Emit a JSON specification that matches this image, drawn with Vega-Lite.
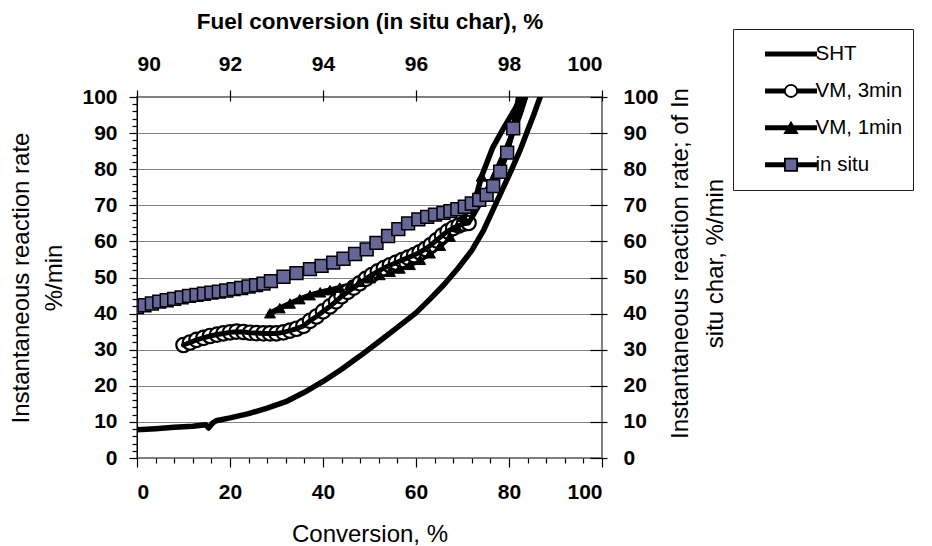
{
  "$schema": "https://vega.github.io/schema/vega-lite/v6.json",
  "autosize": {"type": "none"},
  "padding": {"left": 137, "top": 97, "right": 330, "bottom": 88},
  "width": 465,
  "height": 361,
  "background": "white",
  "config": {
    "font": "Liberation Sans",
    "view": {"stroke": "#808080", "strokeWidth": 2},
    "axis": {"labelColor": "black", "titleColor": "black", "tickColor": "black", "labelFont": "Liberation Sans", "titleFont": "Liberation Sans", "tickWidth": 1.2},
    "legend": {"labelFont": "Liberation Sans", "labelColor": "black"}
  },
  "data": {
    "values": [
      {"series": "SHT", "conversion": 0, "rate": 7.8},
      {"series": "SHT", "conversion": 4, "rate": 8.1},
      {"series": "SHT", "conversion": 8, "rate": 8.5},
      {"series": "SHT", "conversion": 12, "rate": 8.8},
      {"series": "SHT", "conversion": 14.8, "rate": 9.2},
      {"series": "SHT", "conversion": 15.4, "rate": 8.3},
      {"series": "SHT", "conversion": 16.2, "rate": 9.6},
      {"series": "SHT", "conversion": 17, "rate": 10.3},
      {"series": "SHT", "conversion": 20, "rate": 11.1},
      {"series": "SHT", "conversion": 24, "rate": 12.3},
      {"series": "SHT", "conversion": 28, "rate": 13.8},
      {"series": "SHT", "conversion": 32, "rate": 15.6},
      {"series": "SHT", "conversion": 36, "rate": 18.2},
      {"series": "SHT", "conversion": 40, "rate": 21.2},
      {"series": "SHT", "conversion": 44, "rate": 24.6},
      {"series": "SHT", "conversion": 48, "rate": 28.3},
      {"series": "SHT", "conversion": 52, "rate": 32.2},
      {"series": "SHT", "conversion": 56, "rate": 36.2},
      {"series": "SHT", "conversion": 60, "rate": 40.2},
      {"series": "SHT", "conversion": 63, "rate": 44},
      {"series": "SHT", "conversion": 66, "rate": 48},
      {"series": "SHT", "conversion": 69, "rate": 52.5},
      {"series": "SHT", "conversion": 72, "rate": 57.5},
      {"series": "SHT", "conversion": 74.5, "rate": 63},
      {"series": "SHT", "conversion": 77, "rate": 70},
      {"series": "SHT", "conversion": 79, "rate": 75.5},
      {"series": "SHT", "conversion": 80.6, "rate": 80},
      {"series": "SHT", "conversion": 82.3, "rate": 85},
      {"series": "SHT", "conversion": 83.8, "rate": 90},
      {"series": "SHT", "conversion": 85.3, "rate": 95},
      {"series": "SHT", "conversion": 86.7, "rate": 100},
      {"series": "SHT", "conversion": 87.5, "rate": 103},

      {"series": "VM, 3min", "conversion": 10.0, "rate": 31.3},
      {"series": "VM, 3min", "conversion": 11.4, "rate": 32.0},
      {"series": "VM, 3min", "conversion": 12.8, "rate": 32.7},
      {"series": "VM, 3min", "conversion": 14.3, "rate": 33.3},
      {"series": "VM, 3min", "conversion": 15.7, "rate": 33.8},
      {"series": "VM, 3min", "conversion": 17.2, "rate": 34.2},
      {"series": "VM, 3min", "conversion": 18.6, "rate": 34.5},
      {"series": "VM, 3min", "conversion": 20.0, "rate": 34.8},
      {"series": "VM, 3min", "conversion": 21.4, "rate": 35.0},
      {"series": "VM, 3min", "conversion": 22.9, "rate": 34.9},
      {"series": "VM, 3min", "conversion": 24.3, "rate": 34.7},
      {"series": "VM, 3min", "conversion": 25.7, "rate": 34.6},
      {"series": "VM, 3min", "conversion": 27.2, "rate": 34.5},
      {"series": "VM, 3min", "conversion": 28.6, "rate": 34.5},
      {"series": "VM, 3min", "conversion": 30.0, "rate": 34.5},
      {"series": "VM, 3min", "conversion": 31.5, "rate": 34.8},
      {"series": "VM, 3min", "conversion": 32.9, "rate": 35.3},
      {"series": "VM, 3min", "conversion": 34.3, "rate": 35.8},
      {"series": "VM, 3min", "conversion": 35.8, "rate": 36.6},
      {"series": "VM, 3min", "conversion": 37.2, "rate": 38.0},
      {"series": "VM, 3min", "conversion": 38.6, "rate": 39.2},
      {"series": "VM, 3min", "conversion": 40.0, "rate": 40.6},
      {"series": "VM, 3min", "conversion": 41.5, "rate": 42.0},
      {"series": "VM, 3min", "conversion": 42.8, "rate": 43.4},
      {"series": "VM, 3min", "conversion": 44.0, "rate": 44.8},
      {"series": "VM, 3min", "conversion": 45.3, "rate": 46.0},
      {"series": "VM, 3min", "conversion": 46.6, "rate": 47.2},
      {"series": "VM, 3min", "conversion": 47.9, "rate": 48.4},
      {"series": "VM, 3min", "conversion": 49.2, "rate": 49.6},
      {"series": "VM, 3min", "conversion": 50.5, "rate": 50.7},
      {"series": "VM, 3min", "conversion": 51.8, "rate": 51.7},
      {"series": "VM, 3min", "conversion": 53.1, "rate": 52.6},
      {"series": "VM, 3min", "conversion": 54.4, "rate": 53.4},
      {"series": "VM, 3min", "conversion": 55.7, "rate": 54.1},
      {"series": "VM, 3min", "conversion": 57.0, "rate": 54.8},
      {"series": "VM, 3min", "conversion": 58.3, "rate": 55.5},
      {"series": "VM, 3min", "conversion": 59.6, "rate": 56.2},
      {"series": "VM, 3min", "conversion": 60.8, "rate": 57.0},
      {"series": "VM, 3min", "conversion": 62.0, "rate": 57.9},
      {"series": "VM, 3min", "conversion": 63.2, "rate": 59.0},
      {"series": "VM, 3min", "conversion": 64.4, "rate": 60.3},
      {"series": "VM, 3min", "conversion": 65.6, "rate": 61.6},
      {"series": "VM, 3min", "conversion": 66.8, "rate": 62.8},
      {"series": "VM, 3min", "conversion": 68.0, "rate": 63.7},
      {"series": "VM, 3min", "conversion": 69.2, "rate": 64.4},
      {"series": "VM, 3min", "conversion": 70.3, "rate": 64.9},
      {"series": "VM, 3min", "conversion": 71.3, "rate": 65.1},
      {"series": "VM, 3min", "conversion": 73.5, "rate": 70.0},
      {"series": "VM, 3min", "conversion": 76.0, "rate": 76.0},
      {"series": "VM, 3min", "conversion": 78.5, "rate": 83.0},
      {"series": "VM, 3min", "conversion": 80.5, "rate": 89.0},
      {"series": "VM, 3min", "conversion": 82.3, "rate": 95.0},
      {"series": "VM, 3min", "conversion": 83.8, "rate": 101.0},

      {"series": "VM, 1min", "conversion": 28.6, "rate": 40.1},
      {"series": "VM, 1min", "conversion": 30.7, "rate": 41.5},
      {"series": "VM, 1min", "conversion": 32.9, "rate": 42.8},
      {"series": "VM, 1min", "conversion": 35.0, "rate": 44.0},
      {"series": "VM, 1min", "conversion": 37.2, "rate": 45.1},
      {"series": "VM, 1min", "conversion": 39.4, "rate": 45.9},
      {"series": "VM, 1min", "conversion": 41.5, "rate": 46.5},
      {"series": "VM, 1min", "conversion": 43.6, "rate": 47.2},
      {"series": "VM, 1min", "conversion": 45.8, "rate": 47.9},
      {"series": "VM, 1min", "conversion": 47.9, "rate": 48.8},
      {"series": "VM, 1min", "conversion": 50.1, "rate": 49.8},
      {"series": "VM, 1min", "conversion": 52.2, "rate": 50.7},
      {"series": "VM, 1min", "conversion": 54.4, "rate": 51.6},
      {"series": "VM, 1min", "conversion": 56.5, "rate": 52.5},
      {"series": "VM, 1min", "conversion": 58.7, "rate": 53.5},
      {"series": "VM, 1min", "conversion": 60.9, "rate": 54.9},
      {"series": "VM, 1min", "conversion": 63.0, "rate": 56.7},
      {"series": "VM, 1min", "conversion": 65.2, "rate": 58.8},
      {"series": "VM, 1min", "conversion": 67.3, "rate": 61.3},
      {"series": "VM, 1min", "conversion": 68.8, "rate": 64.0},
      {"series": "VM, 1min", "conversion": 70.2, "rate": 66.8},
      {"series": "VM, 1min", "conversion": 71.7, "rate": 70.0},
      {"series": "VM, 1min", "conversion": 73.1, "rate": 73.3},
      {"series": "VM, 1min", "conversion": 74.1, "rate": 78.0},
      {"series": "VM, 1min", "conversion": 76.5, "rate": 86.0},
      {"series": "VM, 1min", "conversion": 78.8, "rate": 91.3},
      {"series": "VM, 1min", "conversion": 81.2, "rate": 96.5},
      {"series": "VM, 1min", "conversion": 83.6, "rate": 102.0},

      {"series": "in situ", "conversion": 0, "rate": 41.8},
      {"series": "in situ", "conversion": 1.6, "rate": 42.3},
      {"series": "in situ", "conversion": 3.2, "rate": 42.8},
      {"series": "in situ", "conversion": 4.8, "rate": 43.3},
      {"series": "in situ", "conversion": 6.4, "rate": 43.7},
      {"series": "in situ", "conversion": 8.0, "rate": 44.1},
      {"series": "in situ", "conversion": 9.6, "rate": 44.5},
      {"series": "in situ", "conversion": 11.2, "rate": 44.9},
      {"series": "in situ", "conversion": 12.8, "rate": 45.2},
      {"series": "in situ", "conversion": 14.4, "rate": 45.5},
      {"series": "in situ", "conversion": 16.0, "rate": 45.8},
      {"series": "in situ", "conversion": 17.6, "rate": 46.1},
      {"series": "in situ", "conversion": 19.2, "rate": 46.4},
      {"series": "in situ", "conversion": 20.8, "rate": 46.8},
      {"series": "in situ", "conversion": 22.4, "rate": 47.1},
      {"series": "in situ", "conversion": 24.0, "rate": 47.5},
      {"series": "in situ", "conversion": 25.6, "rate": 47.9},
      {"series": "in situ", "conversion": 27.2, "rate": 48.3},
      {"series": "in situ", "conversion": 28.8, "rate": 49.0},
      {"series": "in situ", "conversion": 31.5, "rate": 50.2},
      {"series": "in situ", "conversion": 34.3, "rate": 51.2},
      {"series": "in situ", "conversion": 37.2, "rate": 52.3},
      {"series": "in situ", "conversion": 39.7, "rate": 53.2},
      {"series": "in situ", "conversion": 42.2, "rate": 54.1},
      {"series": "in situ", "conversion": 44.4, "rate": 55.2},
      {"series": "in situ", "conversion": 46.9, "rate": 56.5},
      {"series": "in situ", "conversion": 49.4, "rate": 57.8},
      {"series": "in situ", "conversion": 51.5, "rate": 59.6},
      {"series": "in situ", "conversion": 54.0, "rate": 61.5},
      {"series": "in situ", "conversion": 56.2, "rate": 63.4},
      {"series": "in situ", "conversion": 58.3, "rate": 65.0},
      {"series": "in situ", "conversion": 60.5, "rate": 66.1},
      {"series": "in situ", "conversion": 62.4, "rate": 66.8},
      {"series": "in situ", "conversion": 64.1, "rate": 67.4},
      {"series": "in situ", "conversion": 65.9, "rate": 67.9},
      {"series": "in situ", "conversion": 67.4, "rate": 68.4},
      {"series": "in situ", "conversion": 68.9, "rate": 68.9},
      {"series": "in situ", "conversion": 70.5, "rate": 69.6},
      {"series": "in situ", "conversion": 72.0, "rate": 70.5},
      {"series": "in situ", "conversion": 73.6, "rate": 71.5},
      {"series": "in situ", "conversion": 75.2, "rate": 72.9},
      {"series": "in situ", "conversion": 76.6, "rate": 75.3},
      {"series": "in situ", "conversion": 78.1, "rate": 79.3},
      {"series": "in situ", "conversion": 79.6, "rate": 84.6},
      {"series": "in situ", "conversion": 80.9, "rate": 91.3},
      {"series": "in situ", "conversion": 82.6, "rate": 104}
    ]
  },
  "resolve": {"axis": {"x": "independent", "y": "independent"}},
  "layer": [
    {
      "mark": {"type": "line", "strokeWidth": 5.5, "clip": true, "strokeJoin": "round", "strokeCap": "round"},
      "encoding": {
        "x": {
          "field": "conversion", "type": "quantitative",
          "scale": {"domain": [0, 100], "nice": false, "zero": false},
          "axis": {
            "orient": "bottom", "values": [0, 20, 40, 60, 80, 100], "format": "d",
            "title": "Conversion, %", "titleFontSize": 24, "titleFontWeight": "normal", "titlePadding": 20,
            "labelFontSize": 21, "labelFontWeight": "bold", "labelPadding": 14,
            "tickSize": 9, "domain": false, "grid": false
          }
        },
        "y": {
          "field": "rate", "type": "quantitative",
          "scale": {"domain": [0, 100], "nice": false, "zero": false},
          "axis": {
            "orient": "left", "values": [0, 10, 20, 30, 40, 50, 60, 70, 80, 90, 100], "format": "d",
            "title": ["Instantaneous reaction rate", "%/min"], "titleFontSize": 24, "titleFontWeight": "normal",
            "titleLineHeight": 33, "titlePadding": 15,
            "labelFontSize": 21, "labelFontWeight": "bold", "labelPadding": 12,
            "tickSize": 8, "domain": true, "domainColor": "black", "domainWidth": 1,
            "grid": true, "gridColor": "#808080", "gridWidth": 1.2
          }
        },
        "color": {
          "field": "series", "type": "nominal",
          "sort": ["SHT", "VM, 3min", "VM, 1min", "in situ"],
          "scale": {"range": ["black"]},
          "legend": {
            "orient": "none", "legendX": 596, "legendY": -68, "title": null,
            "padding": 10, "strokeColor": "#222222",
            "symbolType": "stroke", "symbolSize": 2704, "symbolStrokeWidth": 5, "symbolStrokeColor": "black",
            "symbolOffset": 19.5, "labelOffset": -4, "labelFontSize": 20.5,
            "clipHeight": 30, "rowPadding": 6.9,
            "labelExpr": "datum.label + '\u2003\u2003\u2003'"
          }
        }
      }
    },
    {
      "transform": [{"filter": "datum.series === 'VM, 3min' && datum.conversion <= 71.5"}],
      "mark": {"type": "point", "filled": true, "size": 210, "strokeWidth": 2.2, "opacity": 1, "clip": true},
      "encoding": {
        "x": {
          "field": "conversion", "type": "quantitative",
          "scale": {"domain": [0, 100], "nice": false, "zero": false},
          "axis": {
            "orient": "top", "values": [0, 20, 40, 60, 80, 100],
            "labelExpr": "format(90 + datum.value / 10, 'd')",
            "title": "Fuel conversion (in situ char), %", "titleFontSize": 22.5, "titleFontWeight": "bold", "titlePadding": 20,
            "labelFontSize": 21, "labelFontWeight": "bold", "labelPadding": 16,
            "offset": -4, "tickSize": 11, "domain": false, "grid": false
          }
        },
        "y": {
          "field": "rate", "type": "quantitative",
          "scale": {"domain": [0, 100], "nice": false, "zero": false},
          "axis": {
            "orient": "right", "values": [0, 10, 20, 30, 40, 50, 60, 70, 80, 90, 100], "format": "d",
            "title": ["Instantaneous reaction rate; of In", "situ char, %/min"],
            "titleAngle": -90, "titleBaseline": "top", "titleFontSize": 24, "titleFontWeight": "normal",
            "titleLineHeight": 35, "titlePadding": -25, "titleY": 166,
            "labelFontSize": 21, "labelFontWeight": "bold", "labelPadding": 16,
            "offset": -12, "tickSize": 17, "domain": false, "grid": false
          }
        },
        "fill": {
          "field": "series", "type": "nominal",
          "scale": {"domain": ["SHT", "VM, 3min", "VM, 1min", "in situ"], "range": ["transparent", "white", "black", "#666699"]},
          "legend": {
            "orient": "none", "legendX": 596, "legendY": -68, "title": null,
            "padding": 10, "symbolSize": 150, "symbolStrokeWidth": 1.8,
            "symbolOffset": 37.75, "labelOffset": 17, "labelFontSize": 20.5, "labelExpr": "''",
            "clipHeight": 30, "rowPadding": 6.9
          }
        },
        "shape": {
          "field": "series", "type": "nominal",
          "scale": {"domain": ["SHT", "VM, 3min", "VM, 1min", "in situ"], "range": ["M0,0", "circle", "triangle-up", "square"]},
          "legend": {
            "orient": "none", "legendX": 596, "legendY": -68, "title": null,
            "padding": 10, "symbolSize": 150, "symbolStrokeWidth": 1.8,
            "symbolOffset": 37.75, "labelOffset": 17, "labelFontSize": 20.5, "labelExpr": "''",
            "clipHeight": 30, "rowPadding": 6.9
          }
        },
        "stroke": {
          "field": "series", "type": "nominal",
          "scale": {"domain": ["SHT", "VM, 3min", "VM, 1min", "in situ"], "range": ["transparent", "black", "black", "black"]},
          "legend": {
            "orient": "none", "legendX": 596, "legendY": -68, "title": null,
            "padding": 10, "symbolSize": 150, "symbolStrokeWidth": 1.8,
            "symbolOffset": 37.75, "labelOffset": 17, "labelFontSize": 20.5, "labelExpr": "''",
            "clipHeight": 30, "rowPadding": 6.9
          }
        }
      }
    },
    {
      "transform": [{"filter": "datum.series === 'VM, 3min'"}],
      "mark": {"type": "line", "stroke": "black", "strokeWidth": 5, "clip": true, "strokeJoin": "round", "strokeCap": "round"},
      "encoding": {
        "x": {"field": "conversion", "type": "quantitative", "scale": {"domain": [0, 100], "nice": false, "zero": false}, "axis": null},
        "y": {"field": "rate", "type": "quantitative", "scale": {"domain": [0, 100], "nice": false, "zero": false}, "axis": null}
      }
    },
    {
      "transform": [{"filter": "datum.series === 'VM, 1min' && datum.conversion <= 74.2"}],
      "mark": {"type": "point", "filled": true, "size": 120, "strokeWidth": 1, "opacity": 1, "clip": true},
      "encoding": {
        "x": {
          "field": "conversion", "type": "quantitative",
          "scale": {"domain": [0, 100], "nice": false, "zero": false},
          "axis": {
            "orient": "bottom", "values": [4, 8, 12, 16, 24, 28, 32, 36, 44, 48, 52, 56, 64, 68, 72, 76, 84, 88, 92, 96],
            "labels": false, "title": null, "tickSize": 5, "domain": false, "grid": false
          }
        },
        "y": {
          "field": "rate", "type": "quantitative",
          "scale": {"domain": [0, 100], "nice": false, "zero": false},
          "axis": {
            "orient": "left", "values": [2, 4, 6, 8, 12, 14, 16, 18, 22, 24, 26, 28, 32, 34, 36, 38, 42, 44, 46, 48, 52, 54, 56, 58, 62, 64, 66, 68, 72, 74, 76, 78, 82, 84, 86, 88, 92, 94, 96, 98],
            "labels": false, "title": null, "tickSize": 5, "domain": false, "grid": false
          }
        },
        "fill": {"field": "series", "type": "nominal", "scale": {"domain": ["SHT", "VM, 3min", "VM, 1min", "in situ"], "range": ["transparent", "white", "black", "#666699"]}},
        "shape": {"field": "series", "type": "nominal", "scale": {"domain": ["SHT", "VM, 3min", "VM, 1min", "in situ"], "range": ["M0,0", "circle", "triangle-up", "square"]}},
        "stroke": {"field": "series", "type": "nominal", "scale": {"domain": ["SHT", "VM, 3min", "VM, 1min", "in situ"], "range": ["transparent", "black", "black", "black"]}}
      }
    },
    {
      "transform": [{"filter": "datum.series === 'in situ'"}],
      "mark": {"type": "point", "filled": true, "size": 165, "strokeWidth": 1.5, "opacity": 1, "clip": true},
      "encoding": {
        "x": {"field": "conversion", "type": "quantitative", "scale": {"domain": [0, 100], "nice": false, "zero": false}, "axis": null},
        "y": {"field": "rate", "type": "quantitative", "scale": {"domain": [0, 100], "nice": false, "zero": false}, "axis": null},
        "fill": {"field": "series", "type": "nominal", "scale": {"domain": ["SHT", "VM, 3min", "VM, 1min", "in situ"], "range": ["transparent", "white", "black", "#666699"]}},
        "shape": {"field": "series", "type": "nominal", "scale": {"domain": ["SHT", "VM, 3min", "VM, 1min", "in situ"], "range": ["M0,0", "circle", "triangle-up", "square"]}},
        "stroke": {"field": "series", "type": "nominal", "scale": {"domain": ["SHT", "VM, 3min", "VM, 1min", "in situ"], "range": ["transparent", "black", "black", "black"]}}
      }
    }
  ]
}
